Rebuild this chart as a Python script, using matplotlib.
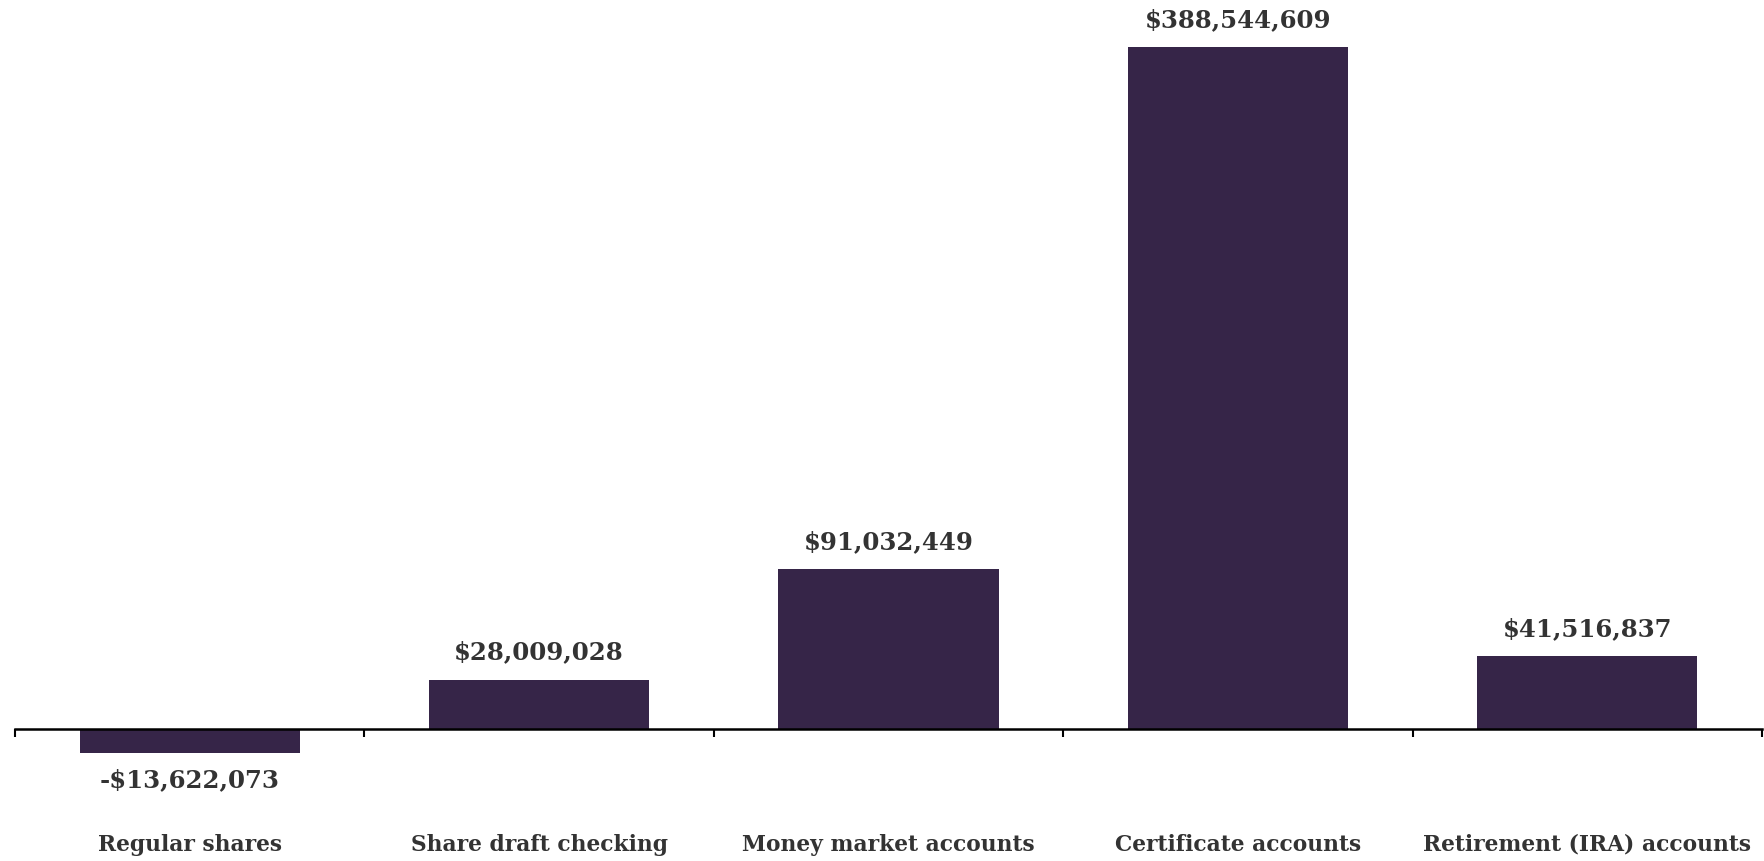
import matplotlib
matplotlib.use('Agg')
import matplotlib.pyplot as plt

# Data
categories = ["Regular shares", "Share draft checking", "Money market accounts",
              "Certificate accounts", "Retirement (IRA) accounts"]
values = [-13622073, 28009028, 91032449, 388544609, 41516837]

bar_color = "#362548"
text_color = "#333333"
font_family = ["DejaVu Serif"]

fig = plt.figure(figsize=(17.65, 8.61), dpi=100)
ax = fig.add_axes([15 / 1765, 1 - 760 / 861, 1747 / 1765, (760 - 47) / 861])

x = list(range(len(categories)))
ax.bar(x, values, width=0.63, color=bar_color, zorder=2)

ax.set_xlim(-0.5, len(categories) - 0.5)
ax.set_ylim(-17.65e6, max(values))

# Spines: only bottom, at zero
for side in ["top", "right", "left"]:
    ax.spines[side].set_visible(False)
ax.spines["bottom"].set_position(("data", 0))
ax.spines["bottom"].set_linewidth(1.8)
ax.spines["bottom"].set_color("black")
ax.spines["bottom"].set_zorder(3)
ax.set_yticks([])
ax.set_xticks([i - 0.5 for i in range(len(categories) + 1)])
ax.set_xticklabels([])
ax.tick_params(axis="x", direction="out", length=6, width=1.5, color="black")

# Value labels
for xi, v in zip(x, values):
    label = ("-$" if v < 0 else "$") + format(abs(v), ",")
    if v >= 0:
        ax.annotate(label, (xi, v), xytext=(0, 11), textcoords="offset points",
                    ha="center", va="bottom", fontsize=17.6, fontweight="bold",
                    color=text_color, family=font_family)
    else:
        ax.annotate(label, (xi, v), xytext=(0, -11), textcoords="offset points",
                    ha="center", va="top", fontsize=17.6, fontweight="bold",
                    color=text_color, family=font_family)

# Category labels
trans = ax.get_xaxis_transform()
for xi, cat in zip(x, categories):
    ax.text(xi, -(845 - 760) / (760 - 47), cat, transform=trans, ha="center", va="center",
            fontsize=15.7, fontweight="bold", color=text_color, family=font_family)

fig.savefig("out.png", dpi=100)
